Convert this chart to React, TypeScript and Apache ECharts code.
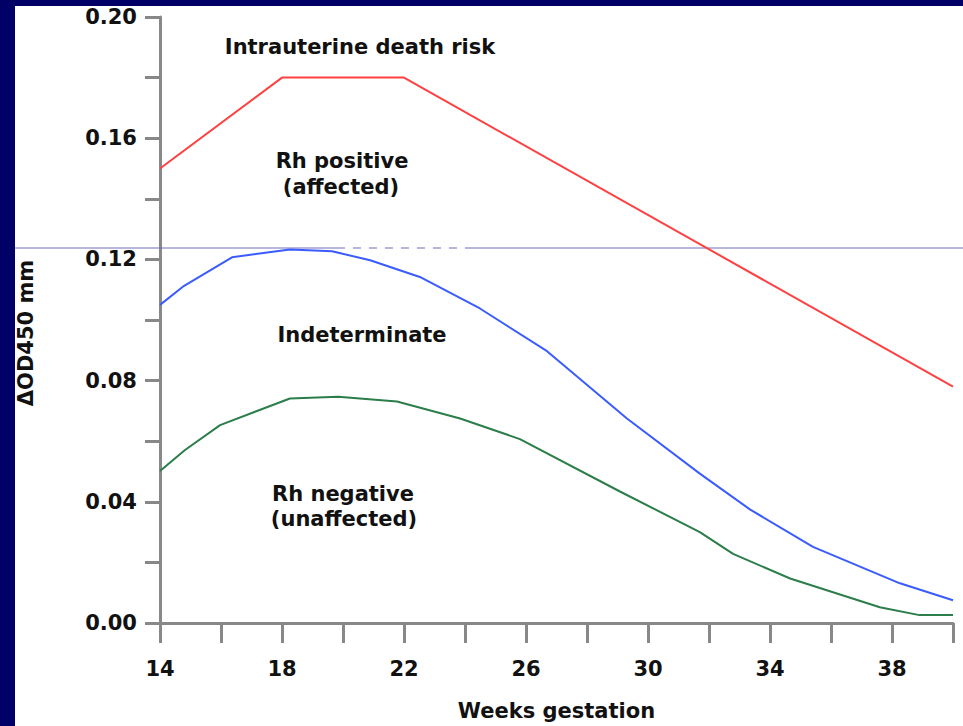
import React, { useEffect, useRef } from "react";
import * as echarts from "echarts";

const redWeeks = [14, 18, 22, 40];
const redValues = [0.15, 0.18, 0.18, 0.078];

const blueWeeks = [14, 14.75, 16.36, 18.26, 19.64, 20.89, 22.52, 24.49, 26.69, 29.31, 31.7, 33.34, 35.41, 38.26, 40];
const blueValues = [0.105, 0.111, 0.1207, 0.1233, 0.1227, 0.1197, 0.1142, 0.1038, 0.0897, 0.0675, 0.0493, 0.0375, 0.0251, 0.0131, 0.0075];

const greenWeeks = [14, 14.82, 15.97, 18.26, 19.84, 21.77, 23.84, 25.8, 29.08, 31.7, 32.79, 34.66, 37.6, 38.9, 40];
const greenValues = [0.0502, 0.0571, 0.0653, 0.0741, 0.0747, 0.0731, 0.0675, 0.0607, 0.0434, 0.03, 0.0228, 0.0147, 0.0052, 0.0026, 0.0026];

const xLabelWeeks = [14, 18, 22, 26, 30, 34, 38];
const yLabelValues = [0, 0.04, 0.08, 0.12, 0.16, 0.2];

const FONT = '"DejaVu Sans", Verdana, sans-serif';

function pairs(xs: number[], ys: number[]) {
  return xs.map((x, i) => [x, ys[i]]);
}

export default function App() {
  const ref = useRef<HTMLDivElement>(null);
  useEffect(() => {
    if (!ref.current) return;
    const chart = echarts.init(ref.current, undefined, { renderer: "svg" });
    const axisStyle = { color: "#888888", width: 3 };
    const labelStyle = { color: "#111111", fontFamily: FONT, fontWeight: "bold" as const, fontSize: 21 };
    const textEl = (text: string, x: number, y: number, rotation = 0) => ({
      type: "text",
      x,
      y,
      rotation,
      z: 100,
      style: {
        text,
        fill: "#111111",
        font: `bold 21px ${FONT}`,
        align: "center",
        verticalAlign: "middle",
        textAlign: "center",
        textVerticalAlign: "middle",
      },
    });
    chart.setOption({
      animation: false,
      backgroundColor: "#000066",
      grid: { left: 160, right: 10, top: 17, bottom: 96, containLabel: false },
      xAxis: {
        type: "value",
        min: 14,
        max: 40,
        interval: 2,
        name: "Weeks gestation",
        nameLocation: "middle",
        nameGap: 77,
        nameTextStyle: labelStyle,
        axisLine: { show: true, onZero: false, lineStyle: axisStyle },
        axisTick: { show: true, length: 20, lineStyle: axisStyle },
        splitLine: { show: false },
        axisLabel: {
          ...labelStyle,
          margin: 35,
          formatter: (v: number) => (xLabelWeeks.includes(Math.round(v)) ? String(Math.round(v)) : ""),
        },
      },
      yAxis: {
        type: "value",
        min: 0,
        max: 0.2,
        interval: 0.02,
        axisLine: { show: true, lineStyle: axisStyle },
        axisTick: { show: true, length: 15, lineStyle: axisStyle },
        splitLine: { show: false },
        axisLabel: {
          ...labelStyle,
          margin: 23,
          formatter: (v: number) => {
            const hit = yLabelValues.find((t) => Math.abs(t - v) < 1e-6);
            return hit === undefined ? "" : hit.toFixed(2);
          },
        },
      },
      graphic: [
        { type: "rect", z: -10, shape: { x: 15, y: 6, width: 948, height: 720 }, style: { fill: "#ffffff" } },
        { type: "line", z: 1, shape: { x1: 15, y1: 248, x2: 337, y2: 248 }, style: { stroke: "#6c6cbc", lineWidth: 1 } },
        { type: "line", z: 1, shape: { x1: 337, y1: 248, x2: 468, y2: 248 }, style: { stroke: "#6c6cbc", lineWidth: 1, lineDash: [8, 8] } },
        { type: "line", z: 1, shape: { x1: 468, y1: 248, x2: 963, y2: 248 }, style: { stroke: "#6c6cbc", lineWidth: 1 } },
        textEl("ΔOD450 mm", 26, 333, Math.PI / 2),
        textEl("Intrauterine death risk", 360, 47),
        textEl("Rh positive", 342, 161),
        textEl("(affected)", 341, 187),
        textEl("Indeterminate", 362, 335),
        textEl("Rh negative", 343, 494),
        textEl("(unaffected)", 344, 519),
      ],
      series: [
        {
          type: "line",
          data: pairs(redWeeks, redValues),
          showSymbol: false,
          lineStyle: { color: "#ff4040", width: 2 },
          itemStyle: { color: "#ff4040" },
        },
        {
          type: "line",
          data: pairs(blueWeeks, blueValues),
          showSymbol: false,
          lineStyle: { color: "#3a5cff", width: 2 },
          itemStyle: { color: "#3a5cff" },
        },
        {
          type: "line",
          data: pairs(greenWeeks, greenValues),
          showSymbol: false,
          lineStyle: { color: "#2b7d4a", width: 2 },
          itemStyle: { color: "#2b7d4a" },
        },
      ],
    });
    return () => chart.dispose();
  }, []);
  return <div ref={ref} style={{ position: "fixed", left: 0, top: 0, width: 963, height: 726 }} />;
}
